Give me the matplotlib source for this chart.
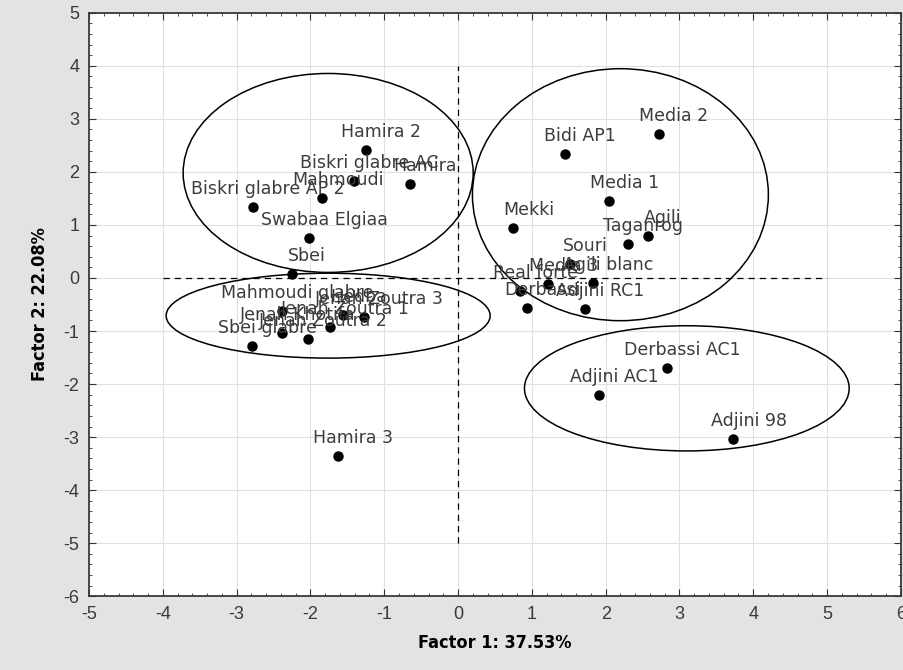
import numpy as np
import matplotlib.pyplot as plt
from matplotlib.patches import Ellipse
from matplotlib.ticker import MultipleLocator, AutoMinorLocator

plt.rcParams['axes.unicode_minus'] = False

# cultivar names and factor scores
names = ['Hamira 2', 'Biskri glabre AC', 'Hamira', 'Mahmoudi', 'Biskri glabre AP 2',
         'Swabaa Elgiaa', 'Sbei',
         'Mahmoudi glabre', 'Hedba', 'Jenah Zoutra 3', 'Jenah Zoutra 1',
         'Jenah Khotifa', 'Jenah Zoutra 2', 'Sbei glabre',
         'Media 2', 'Bidi AP1', 'Media 1', 'Mekki', 'Agili', 'Taganrog', 'Souri',
         'Media 3', 'Agili blanc', 'Real forte', 'Derbassi', 'Adjini RC1',
         'Derbassi AC1', 'Adjini AC1', 'Adjini 98', 'Hamira 3']
f1 = [-1.25, -1.41, -0.65, -1.84, -2.78, -2.02, -2.25,
      -2.38, -1.56, -1.27, -1.73, -2.38, -2.03, -2.79,
      2.72, 1.45, 2.05, 0.75, 2.57, 2.30, 1.52,
      1.22, 1.83, 0.84, 0.93, 1.72,
      2.83, 1.91, 3.73, -1.63]
f2 = [2.42, 1.83, 1.77, 1.51, 1.34, 0.75, 0.08,
      -0.62, -0.70, -0.74, -0.92, -1.04, -1.15, -1.28,
      2.72, 2.34, 1.45, 0.94, 0.79, 0.64, 0.26,
      -0.11, -0.09, -0.25, -0.57, -0.58,
      -1.70, -2.21, -3.04, -3.36]

# group ellipses: centre x, centre y, width, height
ell_x = [-1.76, -1.76, 2.20, 3.10]
ell_y = [1.98, -0.71, 1.57, -2.08]
ell_w = [3.93, 4.39, 4.01, 4.40]
ell_h = [3.75, 1.60, 4.75, 2.36]

bg = '#e4e2e2'
fig = plt.figure(figsize=(9.04, 6.70), dpi=100, facecolor=bg)
ax = fig.add_axes([0.0985, 0.110, 0.898, 0.871])
ax.set_facecolor('white')

ax.set_xlim(-5, 6)
ax.set_ylim(-6, 5)
ax.xaxis.set_major_locator(MultipleLocator(1))
ax.yaxis.set_major_locator(MultipleLocator(1))
ax.xaxis.set_minor_locator(AutoMinorLocator(5))
ax.yaxis.set_minor_locator(AutoMinorLocator(5))
ax.grid(True, which='major', color='#e0e0e0', linewidth=0.8)
ax.set_axisbelow(True)
ax.tick_params(which='both', direction='in', top=True, right=True,
               labelsize=13, labelcolor='#3a3a3a', color='#333333', pad=7)
ax.tick_params(which='major', length=5)
ax.tick_params(which='minor', length=2.5)
for s in ax.spines.values():
    s.set_color('#3a3a3a')
    s.set_linewidth(1.3)
for lab in ax.get_xticklabels() + ax.get_yticklabels():
    lab.set_family(['Liberation Sans', 'DejaVu Sans'])

ax.plot([0, 0], [-5, 4], color='black', linestyle='--', linewidth=0.9, dashes=(5, 4))
ax.plot([-4, 5], [0, 0], color='black', linestyle='--', linewidth=0.9, dashes=(5, 4))

for cx, cy, w, h in zip(ell_x, ell_y, ell_w, ell_h):
    ax.add_patch(Ellipse((cx, cy), w, h, fill=False, edgecolor='black', linewidth=1.1))

ax.plot(f1, f2, 'o', color='black', markersize=6.5, linestyle='none')
for n, x, y in zip(names, f1, f2):
    ax.annotate(n, (x, y), xytext=(11, 13), textcoords='offset points',
                ha='center', va='center', fontsize=12.5, color='#3c3c3c',
                family=['DejaVu Sans'])

ax.set_xlabel('Factor 1: 37.53%', fontsize=13, fontweight='bold',
              family=['DejaVu Sans'], fontstretch='condensed', labelpad=8)
ax.set_ylabel('Factor 2: 22.08%', fontsize=13, fontweight='bold',
              family=['DejaVu Sans'], fontstretch='condensed', labelpad=10)

fig.savefig('out.png', dpi=100, facecolor=bg)
